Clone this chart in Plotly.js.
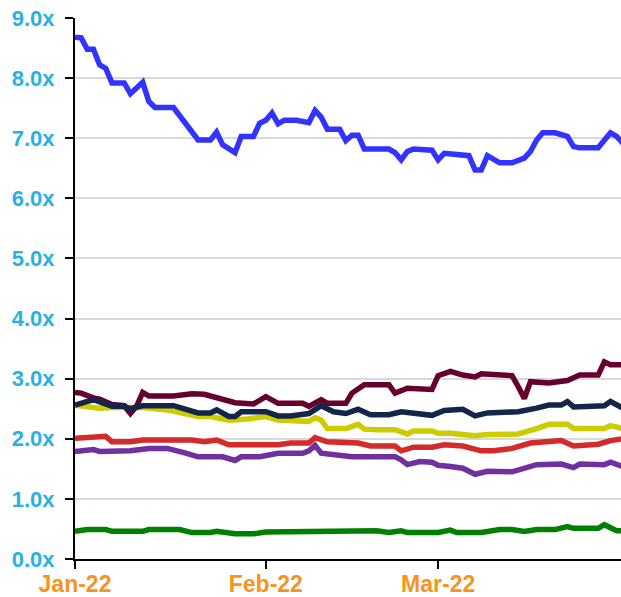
<!DOCTYPE html>
<html>
<head>
<meta charset="utf-8">
<script src="https://cdn.plot.ly/plotly-3.0.1.min.js"></script>
<style>html,body{margin:0;padding:0;background:#fff;}#chart{width:621px;height:597px;}</style>
</head>
<body>
<div id="chart"></div>
<script>
// Dates are month-day in 2022
var blueDates = ["01-01","01-02","01-03","01-04","01-05","01-06","01-07","01-09","01-10","01-12","01-13","01-14","01-17","01-21","01-23","01-24","01-25","01-27","01-28","01-30","01-31","02-01","02-02","02-03","02-04","02-06","02-08","02-09","02-10","02-11","02-13","02-14","02-15","02-16","02-17","02-21","02-22","02-23","02-24","02-25","02-28","03-01","03-02","03-04","03-06","03-07","03-08","03-09","03-11","03-13","03-15","03-16","03-17","03-18","03-20","03-22","03-23","03-24","03-27","03-29","03-30","03-31"];
var blueValues = [8.68,8.67,8.48,8.48,8.22,8.16,7.92,7.92,7.74,7.93,7.61,7.51,7.51,6.97,6.97,7.10,6.89,6.76,7.03,7.03,7.25,7.30,7.42,7.24,7.30,7.30,7.26,7.46,7.35,7.15,7.15,6.96,7.05,7.05,6.82,6.82,6.76,6.64,6.78,6.82,6.80,6.64,6.75,6.72,6.71,6.47,6.47,6.71,6.59,6.59,6.67,6.78,6.97,7.09,7.09,7.03,6.86,6.84,6.84,7.09,7.03,6.92];

var maroonDates = ["01-01","01-02","01-04","01-05","01-07","01-09","01-10","01-11","01-12","01-13","01-17","01-20","01-22","01-25","01-27","01-30","02-01","02-03","02-07","02-08","02-10","02-11","02-14","02-15","02-17","02-21","02-22","02-24","02-28","03-01","03-03","03-05","03-07","03-08","03-11","03-13","03-14","03-15","03-16","03-19","03-22","03-24","03-27","03-28","03-29","03-31"];
var maroonValues = [2.77,2.76,2.68,2.66,2.57,2.55,2.42,2.54,2.77,2.71,2.71,2.75,2.74,2.65,2.60,2.58,2.70,2.59,2.59,2.54,2.65,2.59,2.59,2.76,2.90,2.90,2.76,2.84,2.82,3.05,3.12,3.06,3.03,3.08,3.05,3.05,2.87,2.67,2.95,2.93,2.97,3.06,3.06,3.28,3.23,3.23];

var navyDates = ["01-01","01-04","01-07","01-09","01-10","01-12","01-17","01-19","01-21","01-23","01-24","01-26","01-27","01-28","02-01","02-03","02-05","02-08","02-10","02-12","02-14","02-16","02-18","02-21","02-23","02-28","03-02","03-05","03-07","03-09","03-14","03-17","03-19","03-21","03-22","03-23","03-28","03-29","03-31"];
var navyValues = [2.56,2.65,2.54,2.54,2.50,2.55,2.55,2.48,2.43,2.43,2.48,2.37,2.37,2.45,2.45,2.38,2.38,2.42,2.55,2.45,2.42,2.49,2.40,2.40,2.45,2.39,2.47,2.49,2.38,2.43,2.45,2.51,2.56,2.56,2.62,2.53,2.55,2.62,2.51];

var yellowDates = ["01-01","01-03","01-05","01-07","01-12","01-16","01-19","01-21","01-23","01-26","01-29","02-01","02-03","02-05","02-08","02-09","02-10","02-11","02-14","02-16","02-17","02-19","02-22","02-24","02-25","02-28","03-01","03-03","03-05","03-07","03-09","03-14","03-17","03-19","03-22","03-23","03-28","03-29","03-31"];
var yellowValues = [2.56,2.53,2.51,2.52,2.52,2.48,2.42,2.37,2.37,2.31,2.33,2.37,2.31,2.31,2.29,2.35,2.31,2.17,2.17,2.24,2.16,2.15,2.15,2.08,2.13,2.13,2.09,2.09,2.06,2.05,2.07,2.08,2.17,2.24,2.24,2.17,2.17,2.22,2.17];

var redDates = ["01-01","01-04","01-06","01-07","01-10","01-12","01-20","01-22","01-24","01-26","02-03","02-05","02-08","02-09","02-11","02-16","02-18","02-22","02-23","02-25","02-28","03-02","03-05","03-08","03-10","03-13","03-16","03-21","03-23","03-27","03-29","03-31"];
var redValues = [2.01,2.04,2.04,1.95,1.95,1.98,1.98,1.95,1.98,1.90,1.90,1.93,1.93,2.02,1.95,1.93,1.88,1.88,1.80,1.86,1.86,1.90,1.88,1.80,1.80,1.84,1.93,1.97,1.88,1.91,1.97,2.00];

var purpleDates = ["01-01","01-04","01-05","01-10","01-13","01-16","01-19","01-21","01-25","01-27","01-28","01-31","02-03","02-07","02-08","02-09","02-10","02-12","02-15","02-22","02-23","02-24","02-26","02-28","03-01","03-03","03-05","03-07","03-09","03-13","03-15","03-17","03-21","03-23","03-24","03-28","03-29","03-31"];
var purpleValues = [1.79,1.82,1.79,1.80,1.84,1.84,1.76,1.70,1.70,1.64,1.70,1.70,1.76,1.76,1.80,1.89,1.76,1.73,1.70,1.70,1.65,1.57,1.62,1.61,1.56,1.54,1.51,1.41,1.46,1.45,1.51,1.57,1.58,1.52,1.58,1.57,1.61,1.54];

var greenDates = ["01-01","01-03","01-06","01-07","01-12","01-13","01-18","01-20","01-23","01-24","01-27","01-30","02-01","02-03","02-09","02-10","02-19","02-21","02-23","02-24","03-01","03-03","03-04","03-08","03-11","03-13","03-15","03-17","03-20","03-22","03-23","03-27","03-28","03-30","03-31"];
var greenValues = [0.46,0.49,0.49,0.46,0.46,0.49,0.49,0.44,0.44,0.46,0.42,0.42,0.45,0.45,0.45,0.47,0.47,0.44,0.47,0.44,0.44,0.48,0.44,0.44,0.49,0.49,0.46,0.49,0.49,0.54,0.51,0.51,0.57,0.47,0.47];

var xTickDates = ["01-01","02-01","03-01"];
var xTickLabels = ["Jan-22","Feb-22","Mar-22"];
var yTickValues = [0,1,2,3,4,5,6,7,8,9];

function toDates(arr){ return arr.map(function(d){ return "2022-" + d; }); }

function trace(dates, values, color){
  return {
    x: toDates(dates), y: values, type: "scatter", mode: "lines",
    line: {color: color, width: 5.5, shape: "linear"},
    hoverinfo: "skip", showlegend: false
  };
}

var data = [
  trace(greenDates, greenValues, "#008000"),
  trace(purpleDates, purpleValues, "#7030A0"),
  trace(redDates, redValues, "#D42A2A"),
  trace(yellowDates, yellowValues, "#CCCC00"),
  trace(maroonDates, maroonValues, "#66002E"),
  trace(navyDates, navyValues, "#14254A"),
  trace(blueDates, blueValues, "#3333FF")
];

var layout = {
  width: 621, height: 597,
  margin: {l: 75, r: 0, t: 18, b: 38},
  paper_bgcolor: "#ffffff", plot_bgcolor: "#ffffff",
  showlegend: false,
  xaxis: {
    type: "date",
    range: ["2022-01-01", "2022-03-30 17:00"],
    tickmode: "array",
    tickvals: toDates(xTickDates),
    ticktext: xTickLabels,
    showgrid: false, zeroline: false,
    showline: true, linecolor: "#000000", linewidth: 2,
    ticks: "outside", ticklen: 8, tickwidth: 2, tickcolor: "#000000",
    tickfont: {family: "Liberation Sans, Arial, sans-serif", size: 23, color: "#F7941D", weight: "bold"},
    ticklabelstandoff: -5
  },
  yaxis: {
    range: [0, 9],
    tickmode: "array",
    tickvals: yTickValues,
    ticktext: yTickValues.map(function(v){ return v.toFixed(1) + "x"; }),
    showgrid: true, gridcolor: "#D9D9D9", gridwidth: 2,
    zeroline: false,
    showline: true, linecolor: "#000000", linewidth: 2,
    ticks: "outside", ticklen: 8, tickwidth: 2, tickcolor: "#000000",
    tickfont: {family: "Liberation Sans, Arial, sans-serif", size: 22, color: "#29B1E6", weight: "bold"},
    ticklabelstandoff: 6
  }
};

Plotly.newPlot("chart", data, layout, {staticPlot: true, displayModeBar: false});
</script>
</body>
</html>
